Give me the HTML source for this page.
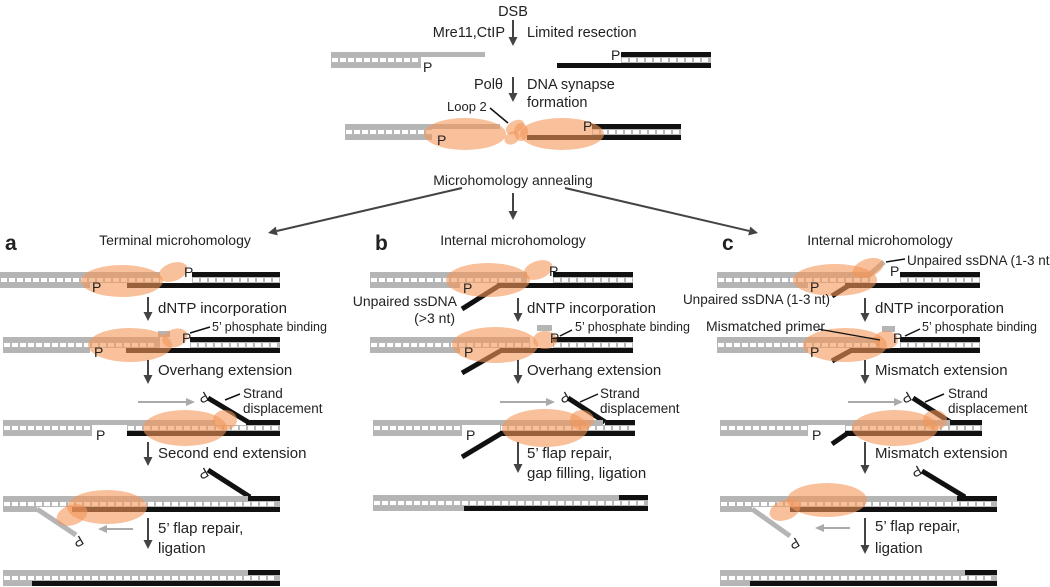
<!DOCTYPE html>
<html><head><meta charset="utf-8"><style>
html,body{margin:0;padding:0;background:#fff}
svg{display:block}
text{font-family:"Liberation Sans",sans-serif;fill:#222}
</style></head><body>
<svg id="s" width="1050" height="587" viewBox="0 0 1050 587" xmlns="http://www.w3.org/2000/svg"></svg>
<script>
(function(){
const S=document.getElementById('s');let h='';
const G='#b5b5b5',K='#111',A='#444',O='rgba(244,150,88,0.6)';
const F=15;
function R(x1,x2,y,hh,c){h+=`<rect x="${x1}" y="${y}" width="${x2-x1}" height="${hh}" fill="${c}"/>`;}
function L(x1,y1,x2,y2,c,w){h+=`<line x1="${x1}" y1="${y1}" x2="${x2}" y2="${y2}" stroke="${c}" stroke-width="${w}"/>`;}
function lad(x1,x2,y){R(x1,x2,y+5,6,'#b8b8b8');for(let x=x1+1;x+6<=x2;x+=8)R(x,x+6,y+6,4,'#fff');}
function tp(x1,x2,y,c){R(x1,x2,y,5,c);}
function bt(x1,x2,y,c){R(x1,x2,y+11,5,c);}
function T(x,y,s,sz,an,extra){h+=`<text x="${x}" y="${y}" font-size="${sz||14}" text-anchor="${an||'start'}" ${extra||''}>${s}</text>`;}
function P(x,y,rot){if(rot)h+=`<text x="0" y="0" font-size="14" transform="translate(${x},${y}) rotate(${rot})">P</text>`;else T(x,y,'P',14);}
function arr(x,y1,y2){L(x,y1,x,y2-7,A,2);h+=`<polygon points="${x-4.5},${y2-9} ${x+4.5},${y2-9} ${x},${y2}" fill="${A}"/>`;}
function darr(x1,y1,x2,y2){const a=Math.atan2(y2-y1,x2-x1),c=Math.cos(a),s=Math.sin(a);const bx=x2-9*c,by=y2-9*s;L(x1,y1,bx,by,A,2);h+=`<polygon points="${x2},${y2} ${bx-4.5*s},${by+4.5*c} ${bx+4.5*s},${by-4.5*c}" fill="${A}"/>`;}
function garr(x1,x2,y){const d=x2>x1?1:-1;L(x1,y,x2-8*d,y,'#aaa',2);h+=`<polygon points="${x2},${y} ${x2-9*d},${y-4} ${x2-9*d},${y+4}" fill="#aaa"/>`;}
function E(cx,cy,rx,ry,rot){h+=`<ellipse cx="${cx}" cy="${cy}" rx="${rx}" ry="${ry}" fill="${O}" transform="rotate(${rot||0} ${cx} ${cy})"/>`;}
let y;
// ---- top
T(513,16,'DSB',14.5,'middle');
arr(513,20,46);T(505,37,'Mre11,CtIP',14.5,'end');T(527,37,'Limited resection',14.5);
tp(331,485,52,G);lad(331,421,52);bt(331,421,52,G);P(423,72);
tp(621,711,52,K);lad(621,711,52);bt(557,711,52,K);P(611,60);
arr(513,77,102);T(503,89,'Pol&#952;',14.5,'end');T(527,89,'DNA synapse',14.5);T(527,107,'formation',14.5);
tp(345,500,124,G);lad(345,432,124);bt(345,432,124,G);
tp(592,681,124,K);lad(592,681,124);bt(527,681,124,K);
E(465,134,41,16);E(562,134,42,16);E(515,127,10,6,-30);E(512,138,8,6,-30);E(521,132,7,9,0);
P(437,145);P(583,131);
T(447,111,'Loop 2',13);L(490,108,508,123,K,1.5);
T(513,185,'Microhomology annealing',14,'middle');
darr(462,188,268,233);arr(513,193,220);darr(565,188,758,233);
T(5,250,'a',21,'start','font-weight="bold"');T(375,250,'b',21,'start','font-weight="bold"');T(722,250,'c',21,'start','font-weight="bold"');
T(175,245,'Terminal microhomology',14,'middle');T(513,245,'Internal microhomology',14,'middle');T(880,245,'Internal microhomology',14,'middle');
// ---- panel a
y=272;tp(0,160,y,G);lad(0,160,y);bt(0,90,y,G);tp(192,280,y,K);lad(192,280,y);bt(127,280,y,K);
E(122,281,41,16);E(173,272,15,9,-20);P(92,292);P(184,277);
arr(148,297,321);T(158,313,'dNTP incorporation',F);
y=337;tp(3,160,y,G);R(158,170,331,6,G);lad(3,160,y);bt(3,90,y,G);tp(190,280,y,K);lad(190,280,y);bt(126,280,y,K);
E(130,345,42,17);E(175,338,13,9,-20);P(94,357);P(182,343);L(190,333,210,327,K,1.5);T(212,331,"5’ phosphate binding",12.5);
arr(148,360,384);T(158,375,'Overhang extension',F);
garr(138,195,402);P(205,391,150);L(208,398,248,422,K,5);
y=420;tp(3,215,y,G);tp(246,280,y,K);lad(3,92,y);lad(127,280,y);bt(3,92,y,G);bt(127,280,y,K);
E(185,428,42,18);E(225,420,12,10);P(96,440);L(225,400,240,394,K,1.5);T(243,398,'Strand',13.5);T(243,413,'displacement',13.5);
arr(148,442,466);T(158,458,'Second end extension',F);
P(205,467,150);L(208,470,250,497,K,5);
y=496;tp(3,248,y,G);tp(248,280,y,K);lad(3,280,y);R(3,37,507,5,G);bt(72,280,y,K);L(37,509,76,535,G,5);P(80,535,150);
E(107,507,40,17);E(72,515,16,10,-20);garr(133,98,529);
arr(148,518,549);T(158,533,'5’ flap repair,',F);T(158,553,'ligation',F);
y=570;tp(3,248,y,G);tp(248,280,y,K);lad(3,280,y);bt(3,32,y,G);bt(32,280,y,K);
// ---- panel b
y=272;tp(370,527,y,G);lad(370,527,y);bt(370,460,y,G);tp(553,633,y,K);lad(553,633,y);bt(497,633,y,K);L(500,285,462,309,K,5);
E(488,280,42,17);E(538,270,15,9,-20);P(463,293);P(549,276);
T(457,306,'Unpaired ssDNA',14,'end');T(455,323,'(&gt;3 nt)',14,'end');
arr(518,298,322);T(527,313,'dNTP incorporation',F);
y=337;tp(370,530,y,G);R(537,552,325,6,G);lad(370,530,y);bt(370,460,y,G);tp(553,633,y,K);lad(553,633,y);bt(500,633,y,K);L(502,350,462,373,K,5);
E(495,345,43,18);E(545,340,12,9);P(464,357);P(550,343);L(560,336,572,330,K,1.5);T(575,331,"5’ phosphate binding",12.5);
arr(518,360,384);T(527,375,'Overhang extension',F);
garr(500,555,402);P(566,391,150);L(568,398,605,422,K,5);
y=420;tp(373,603,y,G);tp(605,635,y,K);lad(373,462,y);lad(500,635,y);bt(373,462,y,G);bt(500,635,y,K);L(502,433,462,457,K,5);
E(545,428,43,19);E(582,420,12,10);P(466,440);L(580,402,598,394,K,1.5);T(600,398,'Strand',13.5);T(600,413,'displacement',13.5);
arr(518,442,473);T(527,458,'5’ flap repair,',F);T(527,478,'gap filling, ligation',F);
y=495;tp(373,619,y,G);tp(619,648,y,K);lad(373,648,y);bt(373,464,y,G);bt(464,648,y,K);
// ---- panel c
y=272;tp(717,870,y,G);lad(717,870,y);bt(717,808,y,G);L(868,276,884,262,G,5);tp(900,980,y,K);lad(900,980,y);bt(845,980,y,K);L(848,286,832,296,K,5);
E(835,280,42,16);E(868,268,16,9,-20);P(810,292);P(890,276);
L(886,262,905,259,K,1.5);T(907,265,'Unpaired ssDNA (1-3 nt)',13.5);T(830,304,'Unpaired ssDNA (1-3 nt)',13.5,'end');
arr(865,298,322);T(875,313,'dNTP incorporation',F);
y=337;tp(717,880,y,G);R(882,895,326,6,G);lad(717,880,y);bt(717,808,y,G);tp(900,980,y,K);lad(900,980,y);bt(850,980,y,K);L(852,350,832,361,K,5);
E(845,345,42,17);E(886,340,12,9);P(810,357);P(893,343);T(706,331,'Mismatched primer',14);L(818,329,880,340,K,1.2);
L(905,336,920,329,K,1.5);T(922,331,"5’ phosphate binding",12.5);
arr(865,360,384);T(875,375,'Mismatch extension',F);
garr(848,903,402);P(908,391,150);L(913,398,950,422,K,5);
y=420;tp(720,950,y,G);tp(950,982,y,K);lad(720,808,y);lad(845,982,y);bt(720,808,y,G);bt(845,982,y,K);L(848,433,832,444,K,5);
E(895,428,43,18);E(935,420,12,10);P(812,440);L(925,402,944,394,K,1.5);T(948,398,'Strand',13.5);T(948,413,'displacement',13.5);
arr(865,442,474);T(875,458,'Mismatch extension',F);
P(918,465,150);L(922,471,965,497,K,5);
y=496;tp(720,957,y,G);tp(957,997,y,K);lad(720,997,y);R(720,752,507,5,G);bt(790,997,y,K);L(752,509,790,536,G,5);P(796,537,150);
E(827,500,40,17);E(785,510,16,10,-20);garr(850,815,528);
arr(865,518,554);T(875,531,'5’ flap repair,',F);T(875,553,'ligation',F);
y=570;tp(720,965,y,G);tp(965,997,y,K);lad(720,997,y);bt(720,750,y,G);bt(750,997,y,K);
S.innerHTML=h;
})();
</script>
</body></html>
